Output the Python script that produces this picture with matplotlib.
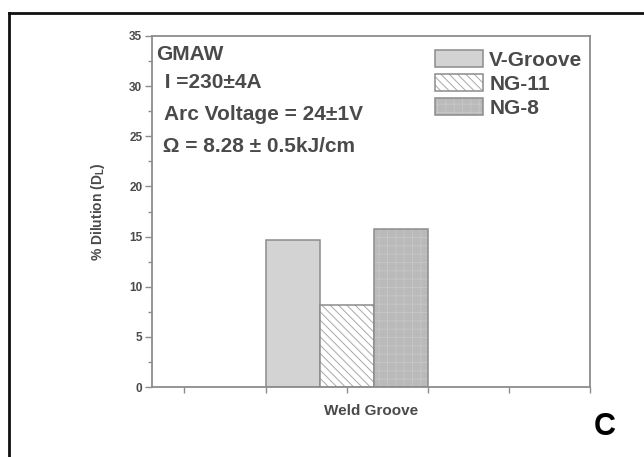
import numpy as np
import matplotlib
matplotlib.use("Agg")
import matplotlib.pyplot as plt
from matplotlib.patches import Patch
from matplotlib.legend_handler import HandlerTuple

# Data
grooves = ["V-Groove", "NG-11", "NG-8"]
dilution = [14.7, 8.2, 15.8]
group_label = "Weld Groove"
notes = ["GMAW", " I =230\u00b14A", " Arc Voltage = 24\u00b11V", " \u03a9 = 8.28 \u00b1 0.5kJ/cm"]

faces = ["#d3d3d3", "#ffffff", "#bababa"]
hatches = ["", "\\\\\\\\", "++"]
hatch_cols = ["#d3d3d3", "#a8a8a8", "#c6c6c6"]
edge = "#8c8c8c"
txt = "#4a4a4a"

plt.rcParams["font.family"] = ["Liberation Sans", "DejaVu Sans"]
plt.rcParams["hatch.linewidth"] = 0.7

fig = plt.figure(figsize=(6.44, 4.57), dpi=100)
W, H = 644, 457
ax = fig.add_axes([152 / W, 1 - 387 / H, (590 - 152) / W, (387 - 36) / H])

width = 1 / 3
xs = 1 + (np.arange(len(grooves)) - 1) * width
handles = []
for i in range(len(grooves)):
    ax.bar(xs[i], dilution[i], width, color=faces[i], hatch=hatches[i],
           edgecolor=hatch_cols[i], linewidth=0)
    ax.bar(xs[i], dilution[i], width, fill=False, edgecolor=edge, linewidth=1.1)
    p1 = Patch(facecolor=faces[i], hatch=hatches[i], edgecolor=hatch_cols[i], linewidth=0)
    p2 = Patch(fill=False, edgecolor=edge, linewidth=1.1)
    handles.append((p1, p2))

ax.set_xlim(-0.2, 2.5)
ax.set_ylim(0, 35)
ax.set_xticks(np.arange(0, 2.51, 0.5))
ax.set_xticklabels([])
ax.set_yticks(np.arange(0, 36, 5))
ax.set_yticks(np.arange(0, 35, 2.5), minor=True)
ax.tick_params(axis="both", which="both", direction="out", color=edge, width=1.0,
               top=False, right=False)
ax.tick_params(axis="y", which="major", length=5, labelsize=8.5, labelcolor=txt, pad=2)
ax.tick_params(axis="y", which="minor", length=3)
ax.tick_params(axis="x", which="major", length=4)
for lab in ax.get_yticklabels():
    lab.set_fontweight("bold")
for s in ax.spines.values():
    s.set_color(edge)
    s.set_linewidth(1.3)

ax.set_ylabel("% Dilution (D$_\\mathregular{L}$)", fontsize=10, fontweight="bold",
              color=txt, labelpad=16)
ax.set_xlabel(group_label, fontsize=11, fontweight="bold", color=txt, labelpad=5)

ypos = [55, 83, 115, 147]
xpos = [156, 159, 159, 157]
for t, x, y in zip(notes, xpos, ypos):
    fig.text(x / W, 1 - y / H, t, fontsize=15, fontweight="bold", color=txt,
             ha="left", va="center")

fig.legend(handles, grooves, handler_map={tuple: HandlerTuple(ndivide=1, pad=0)},
           loc="upper left", bbox_to_anchor=(435 / W, 1 - 50 / H),
           bbox_transform=fig.transFigure, frameon=False, borderpad=0,
           borderaxespad=0, handlelength=2.3, handleheight=0.9,
           handletextpad=0.3, labelspacing=0.2,
           prop={"weight": "bold", "size": 15})
for t in fig.legends[0].get_texts():
    t.set_color(txt)

fig.text(605 / W, 1 - 427 / H, "C", fontsize=22, fontweight="bold", color="black",
         ha="center", va="center")

# black frame visible on top and left edges
fig.add_artist(plt.Line2D([9 / W, 1.0], [1 - 13 / H, 1 - 13 / H], color="#111111",
                          linewidth=2.0, transform=fig.transFigure))
fig.add_artist(plt.Line2D([9 / W, 9 / W], [0.0, 1 - 13 / H], color="#111111",
                          linewidth=2.0, transform=fig.transFigure))

fig.savefig("out.png", dpi=100)
